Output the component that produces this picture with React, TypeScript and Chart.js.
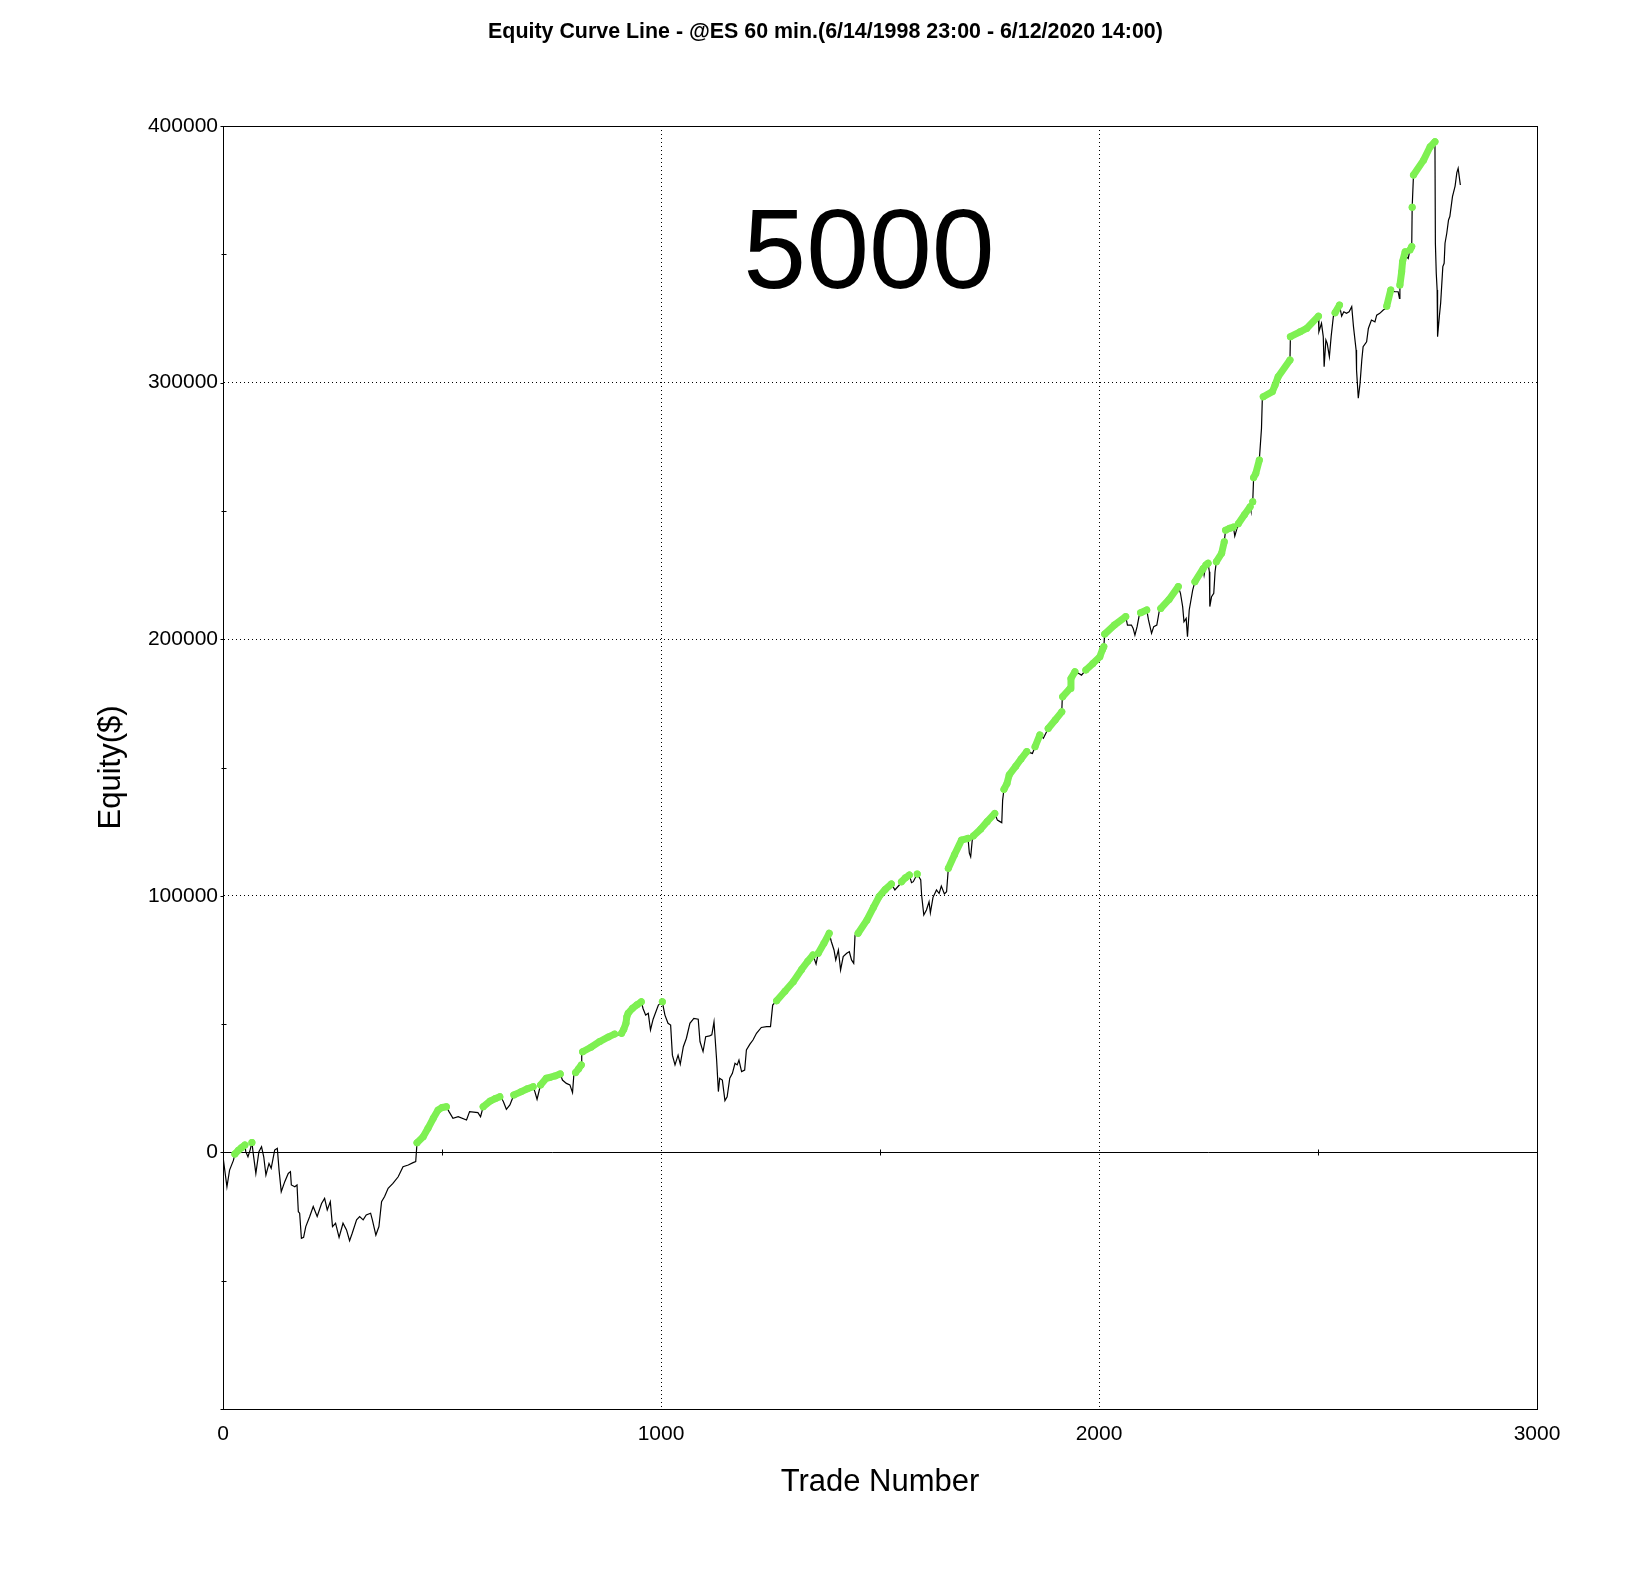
import { useEffect, useRef } from 'react';
import { Chart, registerables } from 'chart.js';

Chart.register(...registerables);

const FAMILY = '"Liberation Sans", Arial, sans-serif';
const GREEN = '#7EF052';

const TITLE = 'Equity Curve Line - @ES 60 min.(6/14/1998 23:00 - 6/12/2020 14:00)';
const WATERMARK = '5000';
const X_TITLE = 'Trade Number';
const Y_TITLE = 'Equity($)';

const X_LABELS = [0, 1000, 2000, 3000];
const Y_LABELS = [0, 100000, 200000, 300000, 400000];
const X_GRID = [1000, 2000];
const Y_GRID = [100000, 200000, 300000];

// [trade number, equity]
const EQUITY_CURVE: [number, number][] = [
  [1, -3000], [9, -13400], [15, -6900], [24, -3000], [27, -600], [35, 800], [42, 1800], [50, 2900], [52, 300], [57, -1700],
  [62, 1000], [66, 3900], [69, -400], [75, -8200], [82, 300], [88, 2200], [93, -1700], [98, -8800], [105, -4300], [110, -6200],
  [118, 900], [124, 1600], [128, -6900], [133, -15300], [141, -11400], [149, -8200], [154, -7500], [156, -12700], [164, -13400], [169, -12700],
  [172, -23100], [175, -23700], [179, -33500], [184, -33100], [189, -28900], [198, -25000], [206, -21100], [215, -25000], [225, -19900], [232, -17900],
  [238, -22400], [245, -19200], [250, -28900], [257, -27600], [265, -33100], [274, -27600], [282, -30200], [289, -34400], [295, -31500], [305, -26300],
  [312, -25000], [320, -26300], [327, -24400], [337, -23700], [341, -26300], [349, -32200], [356, -28900], [362, -19200], [369, -17200], [377, -14000],
  [388, -12100], [400, -9500], [411, -5600], [423, -4900], [434, -4000], [440, -3600], [443, 3800], [457, 6100], [468, 9400], [480, 13300],
  [491, 16500], [500, 17500], [510, 17800], [516, 15900], [525, 13300], [537, 13900], [556, 12600], [563, 15900], [582, 15500], [588, 13900],
  [594, 17800], [610, 20000], [622, 21000], [632, 21700], [636, 21100], [640, 19800], [647, 16800], [655, 18500], [664, 22400], [680, 23600],
  [695, 24800], [708, 25600], [712, 23700], [717, 20700], [723, 24900], [725, 26300], [738, 28900], [746, 29200], [758, 29800], [770, 30600],
  [775, 28200], [784, 26900], [792, 26300], [798, 23300], [801, 30200], [805, 31100], [812, 32600], [818, 34100], [819, 38600], [821, 39200],
  [840, 41000], [860, 43200], [880, 45000], [894, 46100], [904, 45800], [910, 46400], [915, 48000], [920, 50300], [922, 52900], [925, 54200],
  [935, 56200], [945, 57500], [955, 58700], [959, 56100], [965, 53500], [971, 54200], [976, 47700], [982, 51900], [994, 57400], [1003, 58700],
  [1009, 53500], [1016, 50300], [1022, 49600], [1026, 37900], [1032, 34100], [1039, 37900], [1044, 34400], [1051, 41200], [1058, 44500], [1066, 50300],
  [1075, 52200], [1085, 51900], [1089, 43200], [1096, 39300], [1102, 45100], [1111, 45400], [1116, 45800], [1121, 50900], [1127, 36000], [1131, 23700],
  [1134, 28900], [1140, 28200], [1146, 20200], [1151, 21700], [1157, 28900], [1163, 30800], [1169, 34700], [1174, 34100], [1178, 36000], [1184, 31500],
  [1191, 32100], [1195, 39900], [1203, 42200], [1210, 43800], [1218, 46400], [1229, 48700], [1241, 49000], [1250, 49000], [1255, 57400], [1264, 59100],
  [1283, 62800], [1302, 66500], [1321, 71300], [1335, 74500], [1347, 76900], [1354, 73400], [1359, 77600], [1372, 81500], [1384, 85400], [1389, 82100],
  [1395, 78900], [1399, 75000], [1405, 78900], [1410, 71100], [1416, 76300], [1424, 77600], [1430, 78200], [1435, 75000], [1440, 73700], [1443, 84700],
  [1450, 85400], [1470, 90500], [1485, 95500], [1498, 99700], [1512, 102500], [1526, 104600], [1534, 102300], [1544, 104200], [1549, 105500], [1558, 107000],
  [1567, 108100], [1572, 105100], [1576, 105500], [1585, 108500], [1593, 106200], [1595, 100300], [1600, 92500], [1606, 94500], [1612, 97700], [1615, 93400],
  [1621, 99400], [1629, 102300], [1635, 100900], [1640, 103800], [1647, 100700], [1652, 101600], [1656, 110700], [1670, 116000], [1686, 121700], [1701, 122400],
  [1704, 116600], [1707, 115200], [1711, 122400], [1713, 123300], [1730, 126000], [1745, 129000], [1762, 132100], [1768, 129500], [1774, 128900], [1778, 128500],
  [1780, 137300], [1783, 141500], [1790, 143800], [1795, 147100], [1810, 150500], [1822, 153300], [1835, 156200], [1848, 155500], [1854, 158100], [1865, 162700],
  [1873, 161400], [1884, 165200], [1900, 168500], [1915, 171700], [1916, 176300], [1917, 177600], [1934, 180800], [1936, 184700], [1945, 187300], [1953, 186700],
  [1960, 186000], [1970, 188000], [1986, 190500], [2002, 193200], [2008, 196000], [2011, 197100], [2013, 202000], [2035, 205500], [2061, 208800], [2065, 205500],
  [2074, 205500], [2078, 204200], [2082, 201600], [2087, 204900], [2092, 209400], [2095, 210300], [2109, 211400], [2113, 207500], [2120, 202300], [2125, 204900],
  [2132, 205500], [2138, 211400], [2141, 212000], [2160, 215500], [2181, 220500], [2186, 217900], [2191, 212700], [2194, 206800], [2199, 208100], [2202, 201000],
  [2206, 211400], [2214, 219200], [2219, 222400], [2238, 227600], [2240, 225000], [2244, 228900], [2249, 229600], [2252, 226300], [2253, 212700], [2257, 216600],
  [2262, 217900], [2265, 226300], [2268, 230200], [2280, 233500], [2286, 238000], [2289, 242500], [2298, 243200], [2307, 243700], [2310, 240200], [2318, 245000],
  [2332, 248500], [2345, 251600], [2347, 250000], [2351, 253600], [2353, 263000], [2358, 264600], [2366, 269800], [2371, 282200], [2373, 294500], [2375, 294500],
  [2396, 296500], [2402, 299100], [2409, 302300], [2436, 308800], [2437, 317900], [2459, 319800], [2474, 321100], [2501, 325900], [2502, 319800], [2508, 323100],
  [2512, 317900], [2514, 306200], [2518, 316600], [2521, 315300], [2526, 310100], [2530, 317900], [2535, 325700], [2539, 327200], [2549, 330200], [2554, 325900],
  [2559, 327600], [2565, 327000], [2571, 327600], [2577, 329600], [2581, 321800], [2587, 312700], [2588, 304900], [2592, 293900], [2596, 299700], [2600, 308800],
  [2603, 314000], [2611, 315900], [2615, 321100], [2622, 324400], [2630, 323700], [2634, 326300], [2641, 327000], [2649, 328300], [2655, 328900], [2657, 329800],
  [2666, 336100], [2675, 335400], [2683, 335400], [2686, 332800], [2687, 338000], [2691, 343200], [2693, 347100], [2699, 351000], [2702, 349100], [2706, 348400],
  [2710, 351700], [2714, 353000], [2715, 368300], [2718, 380900], [2741, 386700], [2756, 391900], [2767, 393900], [2768, 354300], [2770, 342600], [2772, 336100],
  [2773, 317900], [2777, 325700], [2780, 330900], [2785, 345200], [2788, 346500], [2790, 354300], [2794, 358200], [2798, 363400], [2801, 364700], [2807, 372500],
  [2813, 376600], [2817, 381800], [2820, 383500], [2823, 379600], [2825, 377000],
];

// trade-number ranges marked green (new equity highs)
const GREEN_RANGES: [number, number][] = [
  [27, 50], [66, 66], [443, 510], [594, 632], [664, 708], [725, 770], [805, 818], [821, 894], [910, 955], [1003, 1003],
  [1264, 1347], [1359, 1384], [1450, 1526], [1549, 1567], [1585, 1585], [1656, 1701], [1713, 1762], [1783, 1835], [1854, 1865], [1884, 1915],
  [1917, 1945], [1970, 2011], [2013, 2061], [2095, 2109], [2141, 2181], [2219, 2238], [2244, 2249], [2268, 2286], [2289, 2307], [2318, 2345],
  [2351, 2351], [2353, 2366], [2375, 2436], [2437, 2501], [2539, 2549], [2657, 2666], [2687, 2699], [2710, 2714], [2715, 2715], [2718, 2767],
];

function greenPoints() {
  const out: { x: number; y: number | null }[] = [];
  let last = -1;
  EQUITY_CURVE.forEach(([x, y]) => {
    const r = GREEN_RANGES.findIndex(([a, b]) => x >= a && x <= b);
    if (r < 0) { out.push({ x, y: null }); last = -1; return; }
    if (last >= 0 && r !== last) out.push({ x, y: null });
    out.push({ x, y });
    last = r;
  });
  return out;
}

// frame, small axis ticks and the free texts
const decor = {
  id: 'decor',
  afterDraw(chart: any) {
    const { ctx, chartArea: a, scales: { x, y } } = chart;
    ctx.save();
    ctx.strokeStyle = '#000';
    ctx.lineWidth = 1;
    const L = Math.round(a.left) + 0.5;
    ctx.strokeRect(L, Math.round(a.top) + 0.5, Math.round(a.right - a.left), Math.round(a.bottom - a.top));

    ctx.beginPath();
    y.ticks.forEach((t: any) => {
      const py = Math.round(y.getPixelForValue(t.value)) + 0.5;
      if (t.value % 100000 === 0) { ctx.moveTo(L - 3, py); ctx.lineTo(L, py); }
      else { ctx.moveTo(L - 2, py); ctx.lineTo(L + 3, py); }
    });
    const zy = Math.round(y.getPixelForValue(0)) + 0.5;
    x.ticks.forEach((t: any) => {
      if (t.value % 1000 === 0) return;
      const px = Math.round(x.getPixelForValue(t.value)) + 0.5;
      ctx.moveTo(px, zy - 3);
      ctx.lineTo(px, zy + 3);
    });
    ctx.stroke();

    ctx.fillStyle = '#000';
    ctx.textAlign = 'center';
    ctx.textBaseline = 'middle';
    ctx.font = `bold 21.4px ${FAMILY}`;
    ctx.fillText(TITLE, chart.width / 2, 32);
    ctx.font = `113px ${FAMILY}`;
    ctx.fillText(WATERMARK, (a.left + a.right) / 2 - 11, 257);
    ctx.restore();
  },
};

export default function App() {
  const canvasRef = useRef<HTMLCanvasElement>(null);
  const chartRef = useRef<Chart | null>(null);

  useEffect(() => {
    if (!canvasRef.current) return;
    document.body.style.margin = '0';

    const existing = Chart.getChart(canvasRef.current);
    if (existing) existing.destroy();

    chartRef.current = new Chart(canvasRef.current, {
      type: 'line',
      data: {
        datasets: [
          {
            label: 'New high',
            data: greenPoints(),
            borderColor: GREEN,
            backgroundColor: GREEN,
            borderWidth: 7,
            borderCapStyle: 'round',
            borderJoinStyle: 'round',
            pointRadius: 3.5,
            pointBorderWidth: 0,
            pointBackgroundColor: GREEN,
            spanGaps: false,
          },
          {
            label: 'Equity',
            data: EQUITY_CURVE.map(([x, y]) => ({ x, y })),
            borderColor: '#000',
            borderWidth: 1.2,
            pointRadius: 0,
            tension: 0,
          },
        ],
      },
      options: {
        responsive: false,
        animation: false,
        devicePixelRatio: 1,
        layout: { padding: { top: 126, right: 114, bottom: 0, left: 0 } },
        plugins: { legend: { display: false }, tooltip: { enabled: false } },
        scales: {
          x: {
            type: 'linear',
            min: 0,
            max: 3000,
            afterFit: (s: any) => { s.height = 181; },
            ticks: {
              stepSize: 500,
              autoSkip: false,
              maxRotation: 0,
              padding: 13,
              color: '#000',
              font: { family: FAMILY, size: 21 },
              callback: (v: any) => (X_LABELS.includes(v) ? String(v) : ''),
            },
            grid: {
              drawTicks: false,
              color: (c: any) => (X_GRID.includes(c.tick?.value) ? '#000' : 'rgba(0,0,0,0)'),
            },
            border: { color: '#000', width: 1, dash: (c: any) => (c.tick ? [1, 3] : []) },
            title: {
              display: true,
              text: X_TITLE,
              color: '#000',
              font: { family: FAMILY, size: 31 },
              padding: { top: 0, bottom: 89 },
            },
          },
          y: {
            type: 'linear',
            min: -100000,
            max: 400000,
            afterFit: (s: any) => { s.width = 223; },
            ticks: {
              stepSize: 50000,
              autoSkip: false,
              padding: 5,
              color: '#000',
              font: { family: FAMILY, size: 21 },
              callback: (v: any) => (Y_LABELS.includes(v) ? String(v) : ''),
            },
            grid: {
              drawTicks: false,
              color: (c: any) => {
                const v = c.tick?.value;
                return v === 0 || Y_GRID.includes(v) ? '#000' : 'rgba(0,0,0,0)';
              },
            },
            border: { color: '#000', width: 1, dash: (c: any) => (c.tick && c.tick.value !== 0 ? [1, 3] : []) },
            title: {
              display: true,
              text: Y_TITLE,
              color: '#000',
              font: { family: FAMILY, size: 31 },
              padding: { top: 93, bottom: 0 },
            },
          },
        },
      },
      plugins: [decor],
    });

    return () => { chartRef.current?.destroy(); chartRef.current = null; };
  }, []);

  return <canvas ref={canvasRef} width={1651} height={1590} style={{ display: 'block' }} />;
}
